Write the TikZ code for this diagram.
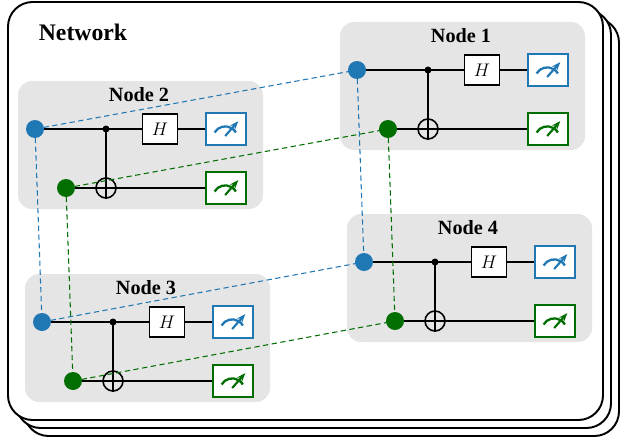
\documentclass[tikz,border=0pt]{standalone}
\usepackage{fontspec}
\setmainfont{Liberation Serif}
\usepackage{tikz}
\usetikzlibrary{arrows.meta}
\definecolor{qblue}{RGB}{31,119,180}
\definecolor{qgreen}{RGB}{0,110,0}
\tikzset{frame/.style={draw,line width=2.2pt,fill=white,rounded corners=28pt}}
\tikzset{panel/.style={fill=black!10,rounded corners=16pt}}
\tikzset{wire/.style={line width=2.2pt}}
\tikzset{link/.style={dashed,line width=1.2pt,dash pattern=on 6pt off 4pt}}
\tikzset{qbit/.style={circle,inner sep=0pt,minimum size=5mm}}
\tikzset{gate/.style={draw,line width=1.8pt,fill=white,minimum width=14mm,minimum height=12mm,inner sep=0pt,font=\itshape\fontsize{22}{22}\selectfont}}
\tikzset{meter/.style={draw,line width=2pt,fill=white,minimum width=16mm,minimum height=13mm,inner sep=0pt}}
\tikzset{title/.style={font=\bfseries\fontsize{23}{23}\selectfont}}
% one four-wire node: name, x, y of blue qubit
\newcommand{\qnode}[4]{%
  \begin{scope}[shift={(#2,#3)}]
    \fill[panel] (-17,-48) rectangle (228,80);
    \node[title] (t#1) at (104,-34) {#4};
    \node[qbit,fill=qblue] (b#1) at (0,0) {};
    \node[qbit,fill=qgreen] (g#1) at (31,59) {};
    \coordinate (c#1) at (71,0);
    \node[gate] (h#1) at (125,0) {$H$};
    \node[meter,draw=qblue] (mb#1) at (191,0) {};
    \node[meter,draw=qgreen] (mg#1) at (191,59) {};
    \node[circle,draw,line width=1.8pt,minimum size=8mm,inner sep=0pt] (x#1) at (71,59) {};
    \draw[wire] (b#1) -- (h#1) (h#1) -- (mb#1);
    \draw[wire] (g#1) -- (mg#1);
    \fill (c#1) circle (3.5);
    \draw[wire] (c#1) -- (x#1.south);
    \draw[line width=1.8pt] (x#1.west) -- (x#1.east);
    \foreach \m/\col in {mb#1/qblue,mg#1/qgreen}{
      \draw[\col,line width=2.6pt] ([xshift=-13pt,yshift=-4pt]\m.center) arc[start angle=150,end angle=30,radius=14pt];
      \draw[\col,line width=2.4pt,-{Stealth[length=10pt]}] ([xshift=-1pt,yshift=-8pt]\m.center) -- ([xshift=14pt,yshift=9pt]\m.center);
    }
  \end{scope}}
\begin{document}
\begin{tikzpicture}[x=0.4mm,y=-0.4mm]
  \useasboundingbox (0,0) rectangle (625,443);
  \draw[frame] (24,18) rectangle (619,436);
  \draw[frame] (16,10) rectangle (611,428);
  \draw[frame] (8,2) rectangle (603,420);
  \node[font=\bfseries\fontsize{27}{27}\selectfont] (net) at (83,32) {Network};
  \qnode{1}{357}{70}{Node 1}
  \qnode{2}{35}{129}{Node 2}
  \qnode{3}{42}{322}{Node 3}
  \qnode{4}{364}{262}{Node 4}
  \draw[link,qblue] (b2.center) -- (b1.center) (b2.center) -- (b3.center)
    (b3.center) -- (b4.center) (b1.center) -- (b4.center);
  \draw[link,qgreen] (g2.center) -- (g1.center) (g2.center) -- (g3.center)
    (g3.center) -- (g4.center) (g1.center) -- (g4.center);
  \foreach \n in {1,2,3,4}{
    \fill[qblue] (b\n) circle (9);
    \fill[qgreen] (g\n) circle (9);
  }
\end{tikzpicture}
\end{document}
